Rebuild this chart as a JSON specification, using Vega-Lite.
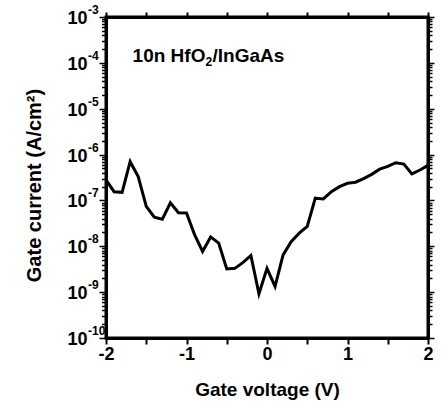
{
  "$schema": "https://vega.github.io/schema/vega-lite/v6.json",
  "width": 322,
  "height": 321,
  "autosize": "none",
  "padding": {"left": 106, "top": 17, "right": 14, "bottom": 69},
  "background": "white",
  "config": {
    "view": {"stroke": "black", "strokeWidth": 3},
    "font": "Liberation Sans",
    "axis": {
      "grid": false,
      "domainColor": "black",
      "domainWidth": 3,
      "tickColor": "black",
      "tickWidth": 2,
      "labelColor": "black",
      "labelFont": "Liberation Sans",
      "labelFontSize": 18,
      "labelFontWeight": "bold",
      "titleColor": "black",
      "titleFont": "Liberation Sans",
      "titleFontSize": 19,
      "titleFontWeight": "bold"
    }
  },
  "datasets": {
    "curve": [
      {"V": -2.0, "J": 2.8e-7},
      {"V": -1.9, "J": 1.55e-7},
      {"V": -1.8, "J": 1.5e-7},
      {"V": -1.7, "J": 7.0e-7},
      {"V": -1.6, "J": 3.3e-7},
      {"V": -1.5, "J": 7.4e-8},
      {"V": -1.4, "J": 4.3e-8},
      {"V": -1.3, "J": 3.9e-8},
      {"V": -1.2, "J": 8.9e-8},
      {"V": -1.1, "J": 5.4e-8},
      {"V": -1.0, "J": 5.3e-8},
      {"V": -0.9, "J": 1.8e-8},
      {"V": -0.8, "J": 7.7e-9},
      {"V": -0.7, "J": 1.6e-8},
      {"V": -0.6, "J": 1.17e-8},
      {"V": -0.5, "J": 3.2e-9},
      {"V": -0.4, "J": 3.3e-9},
      {"V": -0.3, "J": 4.4e-9},
      {"V": -0.2, "J": 6.3e-9},
      {"V": -0.1, "J": 9.2e-10},
      {"V": 0.0, "J": 3.3e-9},
      {"V": 0.1, "J": 1.33e-9},
      {"V": 0.2, "J": 6.5e-9},
      {"V": 0.3, "J": 1.26e-8},
      {"V": 0.4, "J": 1.93e-8},
      {"V": 0.5, "J": 2.7e-8},
      {"V": 0.6, "J": 1.12e-7},
      {"V": 0.7, "J": 1.08e-7},
      {"V": 0.8, "J": 1.55e-7},
      {"V": 0.9, "J": 2.0e-7},
      {"V": 1.0, "J": 2.37e-7},
      {"V": 1.1, "J": 2.5e-7},
      {"V": 1.2, "J": 3.0e-7},
      {"V": 1.3, "J": 3.7e-7},
      {"V": 1.4, "J": 4.8e-7},
      {"V": 1.5, "J": 5.5e-7},
      {"V": 1.6, "J": 6.65e-7},
      {"V": 1.7, "J": 6.2e-7},
      {"V": 1.8, "J": 3.8e-7},
      {"V": 1.9, "J": 4.6e-7},
      {"V": 2.0, "J": 5.8e-7}
    ],
    "exponents": [
      {"J": 1e-3, "e": "-3"},
      {"J": 1e-4, "e": "-4"},
      {"J": 1e-5, "e": "-5"},
      {"J": 1e-6, "e": "-6"},
      {"J": 1e-7, "e": "-7"},
      {"J": 1e-8, "e": "-8"},
      {"J": 1e-9, "e": "-9"},
      {"J": 1e-10, "e": "-10"}
    ],
    "note": [{"V": -1.67, "J": 1.4e-4}]
  },
  "data": {"name": "curve"},
  "layer": [
    {
      "mark": {"type": "line", "color": "black", "strokeWidth": 3, "strokeJoin": "miter", "clip": true},
      "encoding": {
        "x": {
          "field": "V", "type": "quantitative",
          "scale": {"domain": [-2, 2], "nice": false, "zero": false},
          "axis": {
            "orient": "bottom",
            "title": "Gate voltage (V)",
            "values": [-2, -1.5, -1, -0.5, 0, 0.5, 1, 1.5, 2],
            "labelExpr": "datum.value % 1 == 0 ? toString(datum.value) : ''",
            "tickSize": 6,
            "labelPadding": 1,
            "labelFlush": false,
            "labelOverlap": false,
            "titleY": 57,
            "titleBaseline": "alphabetic"
          }
        },
        "y": {
          "field": "J", "type": "quantitative",
          "scale": {"type": "log", "domain": [1e-10, 1e-3], "nice": false},
          "axis": {
            "orient": "left",
            "title": "Gate current (A/cm²)",
            "titleFontSize": 20,
            "titleX": -72,
            "titleY": 168,
            "titleAngle": -90,
            "titleBaseline": "middle",
            "titleAlign": "center",
            "values": [1e-10, 2e-10, 3e-10, 4e-10, 5e-10, 6e-10, 7e-10, 8e-10, 9e-10,
                       1e-9, 2e-9, 3e-9, 4e-9, 5e-9, 6e-9, 7e-9, 8e-9, 9e-9,
                       1e-8, 2e-8, 3e-8, 4e-8, 5e-8, 6e-8, 7e-8, 8e-8, 9e-8,
                       1e-7, 2e-7, 3e-7, 4e-7, 5e-7, 6e-7, 7e-7, 8e-7, 9e-7,
                       1e-6, 2e-6, 3e-6, 4e-6, 5e-6, 6e-6, 7e-6, 8e-6, 9e-6,
                       1e-5, 2e-5, 3e-5, 4e-5, 5e-5, 6e-5, 7e-5, 8e-5, 9e-5,
                       1e-4, 2e-4, 3e-4, 4e-4, 5e-4, 6e-4, 7e-4, 8e-4, 9e-4, 1e-3],
            "labelExpr": "abs(log(datum.value)/LN10 - round(log(datum.value)/LN10)) < 1e-6 ? '10' : ''",
            "tickSize": {"condition": {"test": "abs(log(datum.value)/LN10 - round(log(datum.value)/LN10)) < 1e-6", "value": 7}, "value": 4.5},
            "tickWidth": 1.5,
            "labelPadding": 12,
            "labelOffset": 1.5,
            "labelFlush": false,
            "labelOverlap": false,
            "labelBaseline": "middle"
          }
        }
      }
    },
    {
      "mark": {"type": "line", "opacity": 0},
      "encoding": {
        "x": {
          "field": "V", "type": "quantitative",
          "axis": {
            "orient": "top", "title": null, "labels": false,
            "values": [-2, -1.5, -1, -0.5, 0, 0.5, 1, 1.5, 2],
            "tickSize": 5
          }
        },
        "y": {
          "field": "J", "type": "quantitative",
          "axis": {
            "orient": "right", "title": null, "labels": false,
            "values": [1e-10, 2e-10, 3e-10, 4e-10, 5e-10, 6e-10, 7e-10, 8e-10, 9e-10,
                       1e-9, 2e-9, 3e-9, 4e-9, 5e-9, 6e-9, 7e-9, 8e-9, 9e-9,
                       1e-8, 2e-8, 3e-8, 4e-8, 5e-8, 6e-8, 7e-8, 8e-8, 9e-8,
                       1e-7, 2e-7, 3e-7, 4e-7, 5e-7, 6e-7, 7e-7, 8e-7, 9e-7,
                       1e-6, 2e-6, 3e-6, 4e-6, 5e-6, 6e-6, 7e-6, 8e-6, 9e-6,
                       1e-5, 2e-5, 3e-5, 4e-5, 5e-5, 6e-5, 7e-5, 8e-5, 9e-5,
                       1e-4, 2e-4, 3e-4, 4e-4, 5e-4, 6e-4, 7e-4, 8e-4, 9e-4, 1e-3],
            "tickSize": {"condition": {"test": "abs(log(datum.value)/LN10 - round(log(datum.value)/LN10)) < 1e-6", "value": 6}, "value": 4},
            "tickWidth": 1.5
          }
        }
      }
    },
    {
      "data": {"name": "exponents"},
      "mark": {"type": "text", "align": "left", "baseline": "alphabetic", "dx": -18, "dy": -3, "font": "Liberation Sans", "fontSize": 12, "fontWeight": "bold", "color": "black", "clip": false},
      "encoding": {
        "x": {"datum": -2, "type": "quantitative", "axis": null},
        "y": {"field": "J", "type": "quantitative", "axis": null},
        "text": {"field": "e"}
      }
    },
    {
      "data": {"name": "note"},
      "layer": [
        {
          "mark": {"type": "text", "align": "left", "baseline": "middle", "font": "Liberation Sans", "fontSize": 19, "fontWeight": "bold", "color": "black", "text": "10n HfO"},
          "encoding": {
            "x": {"field": "V", "type": "quantitative", "axis": null},
            "y": {"field": "J", "type": "quantitative", "axis": null}
          }
        },
        {
          "mark": {"type": "text", "align": "left", "baseline": "middle", "dx": 73, "dy": 6, "font": "Liberation Sans", "fontSize": 12, "fontWeight": "bold", "color": "black", "text": "2"},
          "encoding": {
            "x": {"field": "V", "type": "quantitative", "axis": null},
            "y": {"field": "J", "type": "quantitative", "axis": null}
          }
        },
        {
          "mark": {"type": "text", "align": "left", "baseline": "middle", "dx": 80, "font": "Liberation Sans", "fontSize": 19, "fontWeight": "bold", "color": "black", "text": "/InGaAs"},
          "encoding": {
            "x": {"field": "V", "type": "quantitative", "axis": null},
            "y": {"field": "J", "type": "quantitative", "axis": null}
          }
        }
      ]
    }
  ],
  "resolve": {"axis": {"x": "independent", "y": "independent"}}
}
